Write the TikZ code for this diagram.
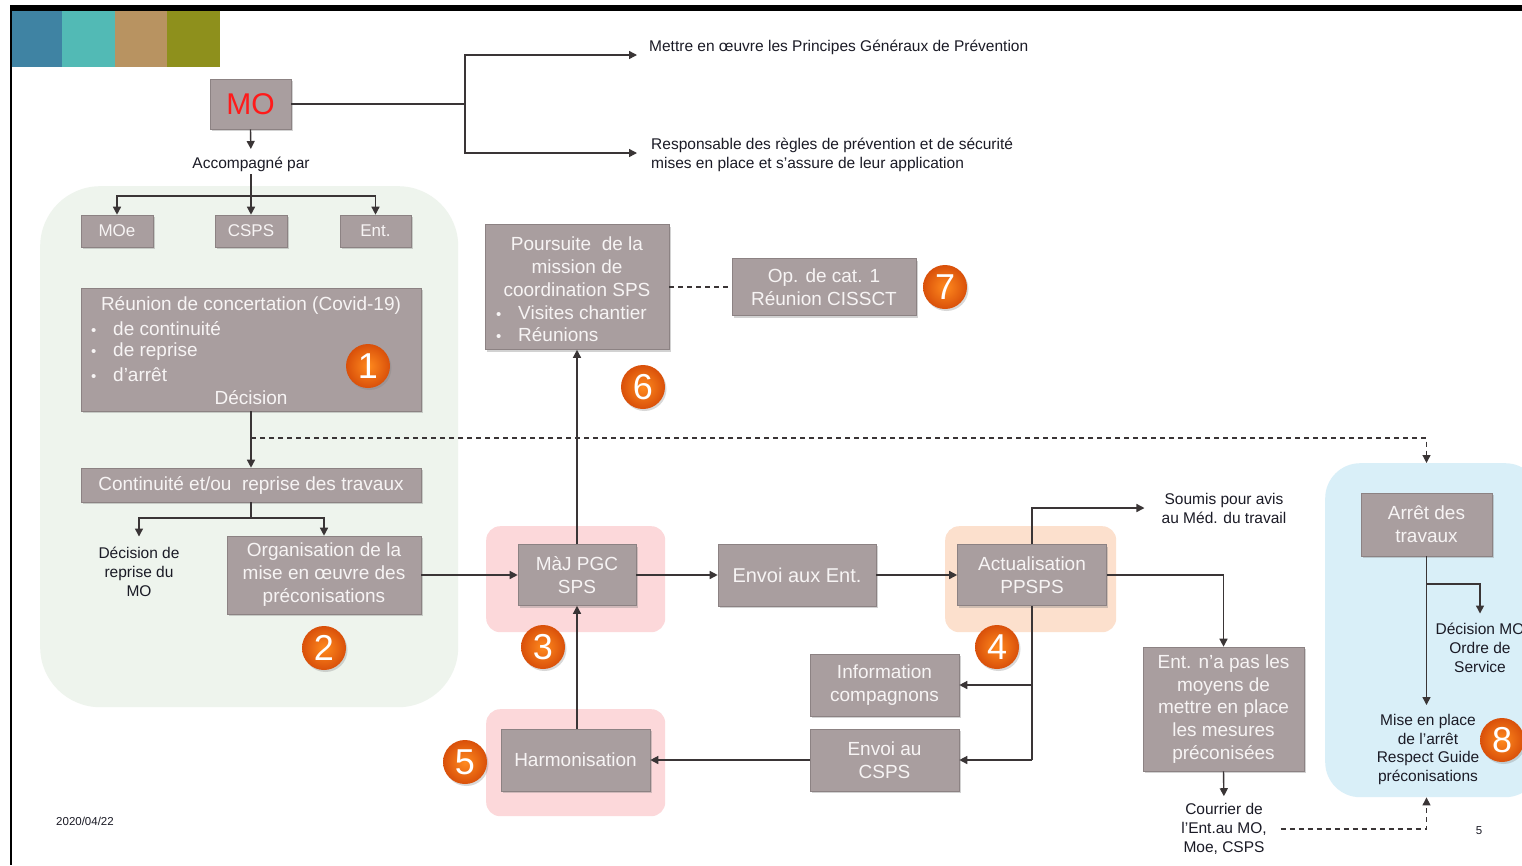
\documentclass[tikz,border=0pt]{standalone}
\usepackage{fontspec}
\setmainfont{Liberation Sans}
\usetikzlibrary{arrows.meta,shadows,calc}
\definecolor{boxgray}{HTML}{A99E9F}
\definecolor{boxedge}{HTML}{8C8283}
\definecolor{boxtext}{HTML}{F7F4F4}
\definecolor{lbltext}{HTML}{1B1B26}
\definecolor{linec}{HTML}{3A3536}
\definecolor{greenbg}{HTML}{EEF4ED}
\definecolor{pinkbg}{HTML}{FCD8DA}
\definecolor{orangebg}{HTML}{FCE0CD}
\definecolor{bluebg}{HTML}{D9EFF8}
\definecolor{sqA}{HTML}{3F83A3}
\definecolor{sqB}{HTML}{52BAB5}
\definecolor{sqC}{HTML}{B89361}
\definecolor{sqD}{HTML}{8E901C}
\definecolor{badgein}{HTML}{FF8A1E}
\definecolor{badgeout}{HTML}{D9500A}
\definecolor{mored}{HTML}{FF1A1A}
\newcommand{\bulitem}[1]{\makebox[22pt][l]{\fontsize{15}{18}\selectfont\textbullet}#1}
\begin{document}
\begin{tikzpicture}[x=1pt,y=-1pt,
 box/.style={fill=boxgray,draw=boxedge,line width=0.6pt,text=boxtext,align=center,inner sep=0pt,font=\fontsize{19}{23}\selectfont,drop shadow={shadow xshift=1.5pt,shadow yshift=-2pt,opacity=0.35}},
 txt/.style={text=boxtext,inner sep=0pt,font=\fontsize{19}{23}\selectfont,yshift=-1.5pt},
 lbl/.style={text=lbltext,align=center,inner sep=0pt,font=\fontsize{15.5}{19}\selectfont,yshift=-1.5pt},
 conn/.style={draw=linec,line width=1.4pt},
 arr/.style={conn,-{Triangle[length=8pt,width=8pt]}},
 dashconn/.style={conn,line width=1.2pt,dash pattern=on 5pt off 4pt},
 badge/.style={circle,minimum size=44pt,inner sep=0pt,inner color=badgein,outer color=badgeout,text=white,font=\fontsize{36}{36}\selectfont,drop shadow={shadow xshift=1.5pt,shadow yshift=-2pt,opacity=0.3}},
 region/.style={inner sep=0pt,anchor=north west}
]
\useasboundingbox (0,0) rectangle (1522,865);
\clip (0,0) rectangle (1522,865);
\fill[white] (0,0) rectangle (1522,865);
% frame
\fill[black] (10,5) rectangle (1522,11);
\fill[black] (10,5) rectangle (12,865);
% colour squares
\fill[sqA] (12,11) rectangle (62,67);
\fill[sqB] (62,11) rectangle (115,67);
\fill[sqC] (115,11) rectangle (167,67);
\fill[sqD] (167,11) rectangle (220,67);
% regions
\node[region,fill=greenbg,rounded corners=60pt,minimum width=418pt,minimum height=521pt] (reg1) at (40,186) {};
\node[region,fill=pinkbg,rounded corners=14pt,minimum width=179pt,minimum height=106pt] (reg3) at (486,526) {};
\node[region,fill=orangebg,rounded corners=14pt,minimum width=171pt,minimum height=106pt] (reg4) at (945,526) {};
\node[region,fill=pinkbg,rounded corners=14pt,minimum width=179pt,minimum height=107pt] (reg5) at (486,709) {};
\node[region,fill=bluebg,rounded corners=35pt,minimum width=215pt,minimum height=334pt] (reg8) at (1325,463) {};
% top part
\node[box,minimum width=81pt,minimum height=50pt,text=mored,font=\fontsize{30}{30}\selectfont] (mo) at (250.5,104) {MO};
\node[lbl,anchor=west] (t1) at (649,46) {Mettre en œuvre les Principes Généraux de Prévention};
\node[lbl,anchor=west,align=left] (t2) at (651,153.5) {Responsable des règles de prévention et de sécurité\\mises en place et s’assure de leur application};
\coordinate (a1) at (637,55);
\coordinate (a2) at (637,153);
\coordinate (jmo) at (465,104);
\node[lbl] (acc) at (251,163) {Accompagné par};
\coordinate (jacc) at (251,196);
\node[box,minimum width=72pt,minimum height=32pt,font=\fontsize{17}{20}\selectfont] (moe) at (117,231) {MOe};
\node[box,minimum width=72pt,minimum height=32pt,font=\fontsize{17}{20}\selectfont] (csps) at (251,231) {CSPS};
\node[box,minimum width=71pt,minimum height=32pt,font=\fontsize{17}{20}\selectfont] (ent) at (375.5,231) {Ent.};
% box 1
\node[box,minimum width=340pt,minimum height=123pt] (b1) at (251,349.5) {};
\node[txt] at (251,304) {Réunion de concertation (Covid-19)};
\node[txt,anchor=west] at (91,327) {\bulitem{de continuité}};
\node[txt,anchor=west] at (91,350) {\bulitem{de reprise}};
\node[txt,anchor=west] at (91,373) {\bulitem{d’arrêt}};
\node[txt] at (251,396) {Décision};
\coordinate (jd) at (251,438);
\node[box,minimum width=340pt,minimum height=34pt] (cont) at (251,485) {Continuité et/ou\ \ reprise des travaux};
\coordinate (jc) at (251,518);
\node[lbl] (dec) at (139,570) {Décision de\\reprise du\\MO};
\node[box,minimum width=194pt,minimum height=78pt] (org) at (324,575) {Organisation de la\\mise en œuvre des\\préconisations};
% middle
\node[box,minimum width=118pt,minimum height=61pt] (maj) at (577,575) {MàJ PGC\\SPS};
\node[box,minimum width=184pt,minimum height=125pt] (pours) at (577,287) {};
\node[txt] at (577,242) {Poursuite\ \ de la};
\node[txt] at (577,265) {mission de};
\node[txt] at (577,288) {coordination SPS};
\node[txt,anchor=west] at (496,311) {\bulitem{Visites chantier}};
\node[txt,anchor=west] at (496,333) {\bulitem{Réunions}};
\node[box,minimum width=184pt,minimum height=57pt] (op) at (824,287) {Op. de cat. 1\\Réunion CISSCT};
\node[box,minimum width=158pt,minimum height=62pt,font=\fontsize{20}{23}\selectfont] (envE) at (797,575) {Envoi aux Ent.};
\node[box,minimum width=149pt,minimum height=61pt] (act) at (1032,575) {Actualisation\\PPSPS};
\node[lbl] (soum) at (1224,506.5) {Soumis pour avis\\au Méd. du travail};
\coordinate (a3) at (1142,506);
\node[box,minimum width=149pt,minimum height=62pt] (info) at (884.5,685) {Information\\compagnons};
\node[box,minimum width=149pt,minimum height=62pt] (envC) at (884.5,760) {Envoi au\\CSPS};
\coordinate (ja) at (1032,760);
\node[box,minimum width=149pt,minimum height=62pt] (harm) at (575.5,760) {Harmonisation};
\node[box,minimum width=161pt,minimum height=124pt,font=\fontsize{19}{22.75}\selectfont] (entb) at (1223.5,709) {Ent. n’a pas les\\moyens de\\mettre en place\\les mesures\\préconisées};
\node[lbl] (cour) at (1224,827.5) {Courrier de\\l’Ent.au MO,\\Moe, CSPS};
% right
\node[box,minimum width=131pt,minimum height=63pt] (arret) at (1426.5,524.5) {Arrêt des\\travaux};
\coordinate (jr) at (1427,584);
\node[lbl] (dmo) at (1480,646) {Décision MO\\Ordre de\\Service};
\node[lbl,font=\fontsize{15.5}{18.7}\selectfont] (mise) at (1428,748) {Mise en place\\de l’arrêt\\Respect Guide\\préconisations};
% footer
\node[lbl,font=\fontsize{11.5}{13}\selectfont] (date) at (85,820) {2020/04/22};
\node[lbl,font=\fontsize{11.5}{13}\selectfont] (pnum) at (1479,829) {5};
% connectors
\draw[conn] (mo.east) -- (jmo);
\draw[arr] (jmo) |- (a1);
\draw[arr] (jmo) |- (a2);
\draw[arr,shorten >=8pt] (mo.south) -- (acc.north);
\draw[conn,shorten <=2pt] (acc.south) -- (jacc);
\draw[arr] (jacc) -| (moe.north);
\draw[arr] (jacc) -- (csps.north);
\draw[arr] (jacc) -| (ent.north);
\draw[arr] (b1.south) -- (cont.north);
\draw[dashconn,-{Triangle[length=8pt,width=8pt]}] (jd) -| (arret.north |- reg8.north);
\draw[conn] (cont.south) -- (jc);
\draw[arr,shorten >=10pt] (jc) -| (dec.north);
\draw[arr] (jc) -| (org.north);
\draw[arr] (org.east) -- (maj.west);
\draw[arr] (maj.north) -- (pours.south);
\draw[dashconn] (pours.east) -- (op.west);
\draw[arr] (maj.east) -- (envE.west);
\draw[arr] (envE.east) -- (act.west);
\draw[arr,shorten >=17pt] (act.north) |- (soum.west);
\draw[arr] (act.east) -| (entb.north);
\draw[conn] (act.south) -- (ja);
\draw[arr] (act.south |- info.east) -- (info.east);
\draw[arr] (ja) -- (envC.east);
\draw[arr] (envC.west) -- (harm.east);
\draw[arr] (maj.south |- harm.north) -- (maj.south);
\draw[arr,shorten >=7pt] (entb.south) -- (cour.north);
\draw[dashconn,shorten <=14pt,-{Triangle[length=8pt,width=8pt]}] (cour.east) -| (arret.south |- reg8.south);
\draw[arr,shorten >=9pt] (arret.south) -- (arret.south |- mise.north);
\draw[arr,shorten >=9pt] (jr) -| (dmo.north);
% badges
\node[badge] (n1) at (368,366) {1};
\node[badge] (n2) at (324,648) {2};
\node[badge] (n3) at (543,647) {3};
\node[badge] (n4) at (997,647) {4};
\node[badge] (n5) at (465,762) {5};
\node[badge] (n6) at (643,387) {6};
\node[badge] (n7) at (945,287) {7};
\node[badge] (n8) at (1502,740) {8};
\end{tikzpicture}
\end{document}
